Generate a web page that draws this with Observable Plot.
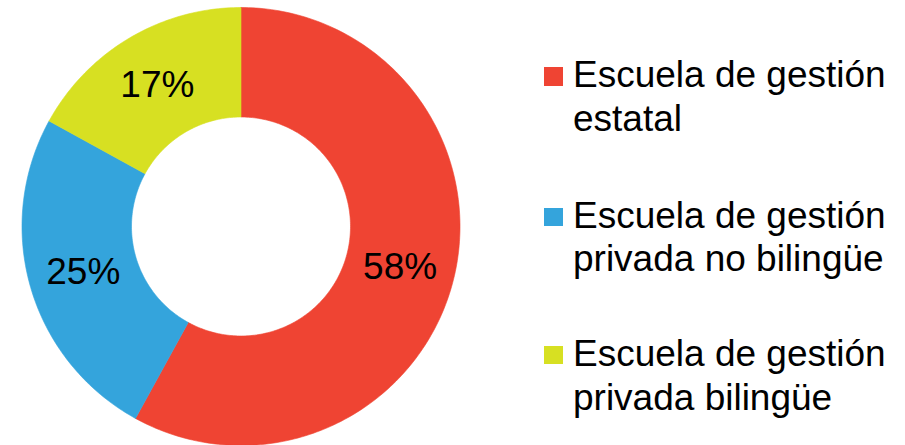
<!DOCTYPE html>
<html>
<head>
<meta charset="utf-8">
<script src="https://cdn.jsdelivr.net/npm/d3@7"></script>
<script src="https://cdn.jsdelivr.net/npm/@observablehq/plot@0.6"></script>
<style>
  html, body { margin: 0; padding: 0; background: #fff; }
  #wrap { position: relative; width: 905px; height: 445px; overflow: hidden;
          font-family: "Liberation Sans", Arial, Helvetica, sans-serif; }
  #wrap svg { position: absolute; left: 0; top: 0; }
  .leg { position: absolute; left: 544px; font-size: 37px; line-height: 43.5px; color: #000; }
  .leg .sw { position: absolute; left: 0; top: 13.9px; width: 19px; height: 18.5px; }
  .leg .tx { position: absolute; left: 29px; top: 0; white-space: nowrap; }
</style>
</head>
<body>
<div id="wrap"></div>
<script>
// Data
const categories = [
  "Escuela de gestión estatal",
  "Escuela de gestión privada no bilingüe",
  "Escuela de gestión privada bilingüe"
];
const legendLines = [
  ["Escuela de gestión", "estatal"],
  ["Escuela de gestión", "privada no bilingüe"],
  ["Escuela de gestión", "privada bilingüe"]
];
const values = [58, 25, 17];
const labels = ["58%", "25%", "17%"];
const colors = ["#EF4433", "#34A4DC", "#D7E022"];

// Build donut slices (angles clockwise from top) in data space [-1, 1]
const innerR = 0.5, outerR = 1;
const total = d3.sum(values);
const slices = [];
const labelRows = [];
let acc = 0;
values.forEach((v, i) => {
  const a0 = acc / total * 2 * Math.PI;
  acc += v;
  const a1 = acc / total * 2 * Math.PI;
  const n = Math.max(8, Math.ceil((a1 - a0) / (Math.PI / 180)));
  const pts = [];
  for (let k = 0; k <= n; k++) {
    const a = a0 + (a1 - a0) * k / n;
    pts.push({cat: categories[i], x: outerR * Math.sin(a), y: outerR * Math.cos(a)});
  }
  for (let k = n; k >= 0; k--) {
    const a = a0 + (a1 - a0) * k / n;
    pts.push({cat: categories[i], x: innerR * Math.sin(a), y: innerR * Math.cos(a)});
  }
  pts.push({...pts[0]});
  slices.push(...pts);
  const am = (a0 + a1) / 2, rm = (innerR + outerR) / 2;
  labelRows.push({cat: categories[i], label: labels[i], x: rm * Math.sin(am), y: rm * Math.cos(am)});
});

const chart = Plot.plot({
  width: 905,
  height: 445,
  marginLeft: 21.5,
  marginRight: 445.5,
  marginTop: 7,
  marginBottom: 0,
  x: {domain: [-1, 1], axis: null},
  y: {domain: [-1, 1], axis: null},
  color: {domain: categories, range: colors},
  style: {fontFamily: '"Liberation Sans", Arial, Helvetica, sans-serif', background: "transparent", overflow: "visible"},
  marks: [
    Plot.line(slices, {x: "x", y: "y", z: "cat", fill: "cat", stroke: "cat", strokeWidth: 0.6, curve: "linear"}),
    Plot.text(labelRows, {x: "x", y: "y", text: "label", fontSize: 37, fill: "#000", textAnchor: "middle", lineAnchor: "middle"})
  ]
});

const wrap = document.getElementById("wrap");
wrap.appendChild(chart);

// Legend
const legTops = [53.4, 193.7, 332.1];
legendLines.forEach((lines, i) => {
  const item = document.createElement("div");
  item.className = "leg";
  item.style.top = legTops[i] + "px";
  const sw = document.createElement("div");
  sw.className = "sw";
  sw.style.background = colors[i];
  const tx = document.createElement("div");
  tx.className = "tx";
  tx.innerHTML = lines.join("<br>");
  item.appendChild(sw);
  item.appendChild(tx);
  wrap.appendChild(item);
});
</script>
</body>
</html>
